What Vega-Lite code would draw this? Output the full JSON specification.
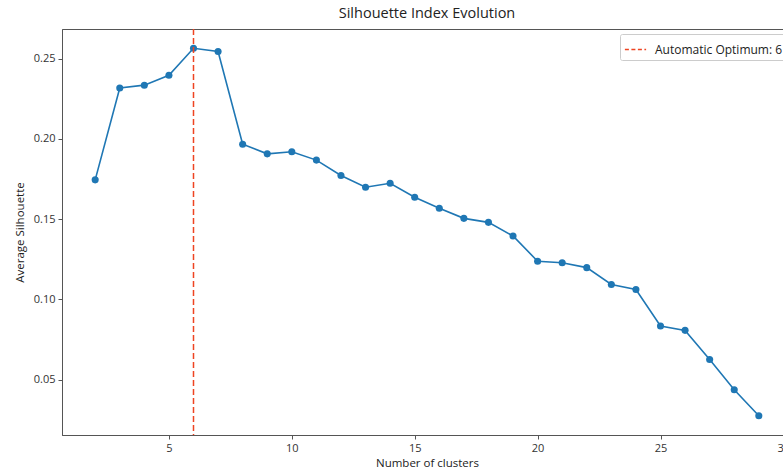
{
  "$schema": "https://vega.github.io/schema/vega-lite/v6.json",
  "autosize": {"type": "none"},
  "padding": {"left": 62, "top": 29, "right": -9, "bottom": 35},
  "width": 730,
  "height": 406,
  "background": "white",
  "title": {"text": "Silhouette Index Evolution", "font": "Open Sans", "fontSize": 14.5, "fontWeight": "normal", "color": "#222", "offset": 7},
  "config": {
    "view": {"stroke": "#555", "strokeWidth": 1},
    "axis": {"grid": false, "labelFont": "Open Sans", "labelFontSize": 11, "labelColor": "#333", "titleFont": "Open Sans", "titleFontSize": 11.5, "titleFontWeight": "normal", "titleColor": "#222", "domainColor": "#555", "tickColor": "#555", "tickSize": 4, "labelPadding": 3}
  },
  "data": {"values": [
    {"k": 2, "s": 0.1745}, {"k": 3, "s": 0.2317}, {"k": 4, "s": 0.2335}, {"k": 5, "s": 0.2397},
    {"k": 6, "s": 0.2565}, {"k": 7, "s": 0.2545}, {"k": 8, "s": 0.1967}, {"k": 9, "s": 0.1907},
    {"k": 10, "s": 0.1920}, {"k": 11, "s": 0.1868}, {"k": 12, "s": 0.1772}, {"k": 13, "s": 0.1699},
    {"k": 14, "s": 0.1724}, {"k": 15, "s": 0.1637}, {"k": 16, "s": 0.1568}, {"k": 17, "s": 0.1505},
    {"k": 18, "s": 0.1480}, {"k": 19, "s": 0.1395}, {"k": 20, "s": 0.1238}, {"k": 21, "s": 0.1228},
    {"k": 22, "s": 0.1198}, {"k": 23, "s": 0.1093}, {"k": 24, "s": 0.1062}, {"k": 25, "s": 0.0834},
    {"k": 26, "s": 0.0807}, {"k": 27, "s": 0.0625}, {"k": 28, "s": 0.0437}, {"k": 29, "s": 0.0275}
  ]},
  "layer": [
    {
      "mark": {"type": "line", "color": "#1f77b4", "strokeWidth": 1.6, "point": {"filled": true, "size": 50, "color": "#1f77b4", "opacity": 1}},
      "encoding": {
        "x": {"field": "k", "type": "quantitative", "title": "Number of clusters",
              "scale": {"domain": [0.65, 30.35], "nice": false, "zero": false},
              "axis": {"values": [5, 10, 15, 20, 25, 30], "format": "d", "titlePadding": 4}},
        "y": {"field": "s", "type": "quantitative", "title": "Average Silhouette",
              "scale": {"domain": [0.0155, 0.2685], "nice": false, "zero": false},
              "axis": {"values": [0.05, 0.10, 0.15, 0.20, 0.25], "format": ".2f", "titlePadding": 8}}
      }
    },
    {
      "data": {"values": [{"opt": 6, "label": "Automatic Optimum: 6"}]},
      "mark": {"type": "rule", "strokeDash": [6, 3], "strokeWidth": 1.5},
      "encoding": {
        "x": {"field": "opt", "type": "quantitative"},
        "color": {"field": "label", "type": "nominal", "scale": {"range": ["#ee4422"]},
                  "legend": {"title": null, "orient": "top-right", "offset": 5, "symbolType": "stroke", "symbolDash": [4, 2.5], "symbolStrokeWidth": 1.5, "symbolSize": 450, "labelFont": "Open Sans", "labelFontSize": 12, "labelColor": "#222", "strokeColor": "#ccc", "fillColor": "white", "padding": 4, "cornerRadius": 2, "labelOffset": 8}}
      }
    }
  ]
}
